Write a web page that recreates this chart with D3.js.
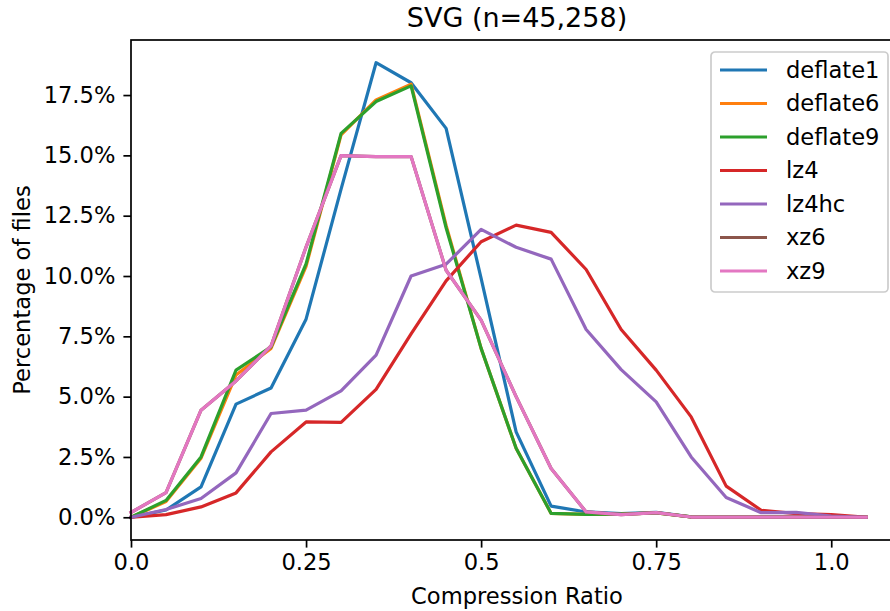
<!DOCTYPE html>
<html>
<head>
<meta charset="utf-8">
<script src="https://cdn.jsdelivr.net/npm/d3@7/dist/d3.min.js"></script>
<style>
  body { margin: 0; background: #fff; }
  svg text { font-family: "DejaVu Sans", sans-serif; fill: #000; }
</style>
</head>
<body>
<div id="chart"></div>
<script>
// compression ratio buckets (0.00 .. 1.05)
var ratios = d3.range(22).map(function(i) { return +(i * 0.05).toFixed(2); });

var seriesNames = ["deflate1", "deflate6", "deflate9", "lz4", "lz4hc", "xz6", "xz9"];
var seriesColors = ["#1f77b4", "#ff7f0e", "#2ca02c", "#d62728", "#9467bd", "#8c564b", "#e377c2"];

// percentage of files per bucket
var deflate1 = [0, 0.30, 1.26, 4.69, 5.36, 8.21, 13.6, 18.84, 18.01, 16.12, 9.9, 3.54, 0.46, 0.22, 0.15, 0.20, 0.02, 0.01, 0.01, 0.01, 0, 0];
var deflate6 = [0, 0.65, 2.45, 5.9, 7.0, 10.4, 15.85, 17.3, 17.95, 12.1, 7.0, 2.86, 0.16, 0.12, 0.13, 0.18, 0.02, 0.01, 0.01, 0.01, 0, 0];
var deflate9 = [0, 0.70, 2.5, 6.1, 7.06, 10.5, 15.91, 17.23, 17.88, 12.0, 7.0, 2.86, 0.16, 0.12, 0.13, 0.18, 0.02, 0.01, 0.01, 0.01, 0, 0];
var lz4      = [0, 0.11, 0.43, 1.01, 2.71, 3.95, 3.93, 5.30, 7.6, 9.8, 11.42, 12.11, 11.81, 10.27, 7.78, 6.10, 4.16, 1.29, 0.29, 0.15, 0.11, 0];
var lz4hc    = [0, 0.32, 0.78, 1.84, 4.30, 4.44, 5.24, 6.72, 10.0, 10.49, 11.93, 11.19, 10.70, 7.78, 6.12, 4.78, 2.50, 0.82, 0.19, 0.20, 0.05, 0];
var xz6      = [0.2, 1.02, 4.44, 5.65, 7.1, 11.2, 14.99, 14.95, 14.95, 10.24, 8.17, 5.0, 2.02, 0.22, 0.11, 0.19, 0.01, 0.01, 0.01, 0.01, 0, 0];
var xz9      = [0.2, 1.02, 4.44, 5.65, 7.1, 11.2, 14.99, 14.95, 14.95, 10.24, 8.17, 5.0, 2.02, 0.22, 0.11, 0.19, 0.01, 0.01, 0.01, 0.01, 0, 0];

var xTicks = [0, 0.25, 0.5, 0.75, 1.0];
var xTickLabels = ["0.0", "0.25", "0.5", "0.75", "1.0"];
var yTicks = [0, 2.5, 5, 7.5, 10, 12.5, 15, 17.5];

var allSeries = [deflate1, deflate6, deflate9, lz4, lz4hc, xz6, xz9];

var W = 890, H = 611,
    margin = { top: 40, left: 131, bottom: 71 },
    plotW = 772,
    plotH = H - margin.top - margin.bottom,
    fs = "22.6px";

var svg = d3.select("#chart").append("svg")
    .attr("width", W)
    .attr("height", H);

var x = d3.scaleLinear().domain([0, 1.1025]).range([margin.left, margin.left + plotW]);
var ymax = d3.max(allSeries, function(s) { return d3.max(s); });
var pad = ymax * 0.05;
var y = d3.scaleLinear().domain([-pad, ymax + pad]).range([margin.top + plotH, margin.top]);

var line = d3.line()
    .x(function(d) { return x(d[0]); })
    .y(function(d) { return y(d[1]); });

// lines
svg.append("g").selectAll("path")
    .data(allSeries)
    .enter().append("path")
    .attr("d", function(s) { return line(s.map(function(v, i) { return [ratios[i], v]; })); })
    .attr("fill", "none")
    .attr("stroke", function(s, i) { return seriesColors[i]; })
    .attr("stroke-width", 3.2)
    .attr("stroke-linejoin", "round")
    .attr("stroke-linecap", "square");

// axes
var xAxis = svg.append("g")
    .attr("transform", "translate(0," + (margin.top + plotH) + ")")
    .call(d3.axisBottom(x).tickValues(xTicks).tickFormat(function(d, i) { return xTickLabels[i]; })
      .tickSize(7.6).tickPadding(6));
var yAxis = svg.append("g")
    .attr("transform", "translate(" + margin.left + ",0)")
    .call(d3.axisLeft(y).tickValues(yTicks).tickFormat(function(d) { return d.toFixed(1) + "%"; })
      .tickSize(7.6).tickPadding(8));

[xAxis, yAxis].forEach(function(a) {
  a.select(".domain").remove();
  a.selectAll(".tick line").attr("stroke", "#000").attr("stroke-width", 1.7);
  a.selectAll(".tick text").style("font-size", fs).attr("font-family", "DejaVu Sans");
});

// spines
svg.append("rect")
    .attr("x", margin.left)
    .attr("y", margin.top)
    .attr("width", plotW)
    .attr("height", plotH)
    .attr("fill", "none")
    .attr("stroke", "#000")
    .attr("stroke-width", 1.7);

// title and labels
svg.append("text")
    .attr("x", margin.left + plotW / 2)
    .attr("y", 27)
    .attr("text-anchor", "middle")
    .style("font-size", "27px")
    .text("SVG (n=45,258)");

svg.append("text")
    .attr("x", margin.left + plotW / 2)
    .attr("y", 604)
    .attr("text-anchor", "middle")
    .style("font-size", fs)
    .text("Compression Ratio");

svg.append("text")
    .attr("transform", "translate(30," + (margin.top + plotH / 2) + ") rotate(-90)")
    .attr("text-anchor", "middle")
    .style("font-size", fs)
    .text("Percentage of files");

// legend
var legend = svg.append("g").attr("transform", "translate(711,52)");
legend.append("rect")
    .attr("width", 177)
    .attr("height", 240)
    .attr("rx", 4)
    .attr("fill", "#fff")
    .attr("fill-opacity", 0.8)
    .attr("stroke", "#ccc")
    .attr("stroke-width", 1.7);

var items = legend.selectAll(".item")
    .data(seriesNames)
    .enter().append("g")
    .attr("class", "item")
    .attr("transform", function(d, i) { return "translate(0," + (18 + i * 33.5) + ")"; });

items.append("line")
    .attr("x1", 9).attr("x2", 56)
    .attr("stroke", function(d, i) { return seriesColors[i]; })
    .attr("stroke-width", 3.2);

items.append("text")
    .attr("x", 75)
    .attr("dy", "0.35em")
    .style("font-size", fs)
    .text(function(d) { return d; });
</script>
</body>
</html>
